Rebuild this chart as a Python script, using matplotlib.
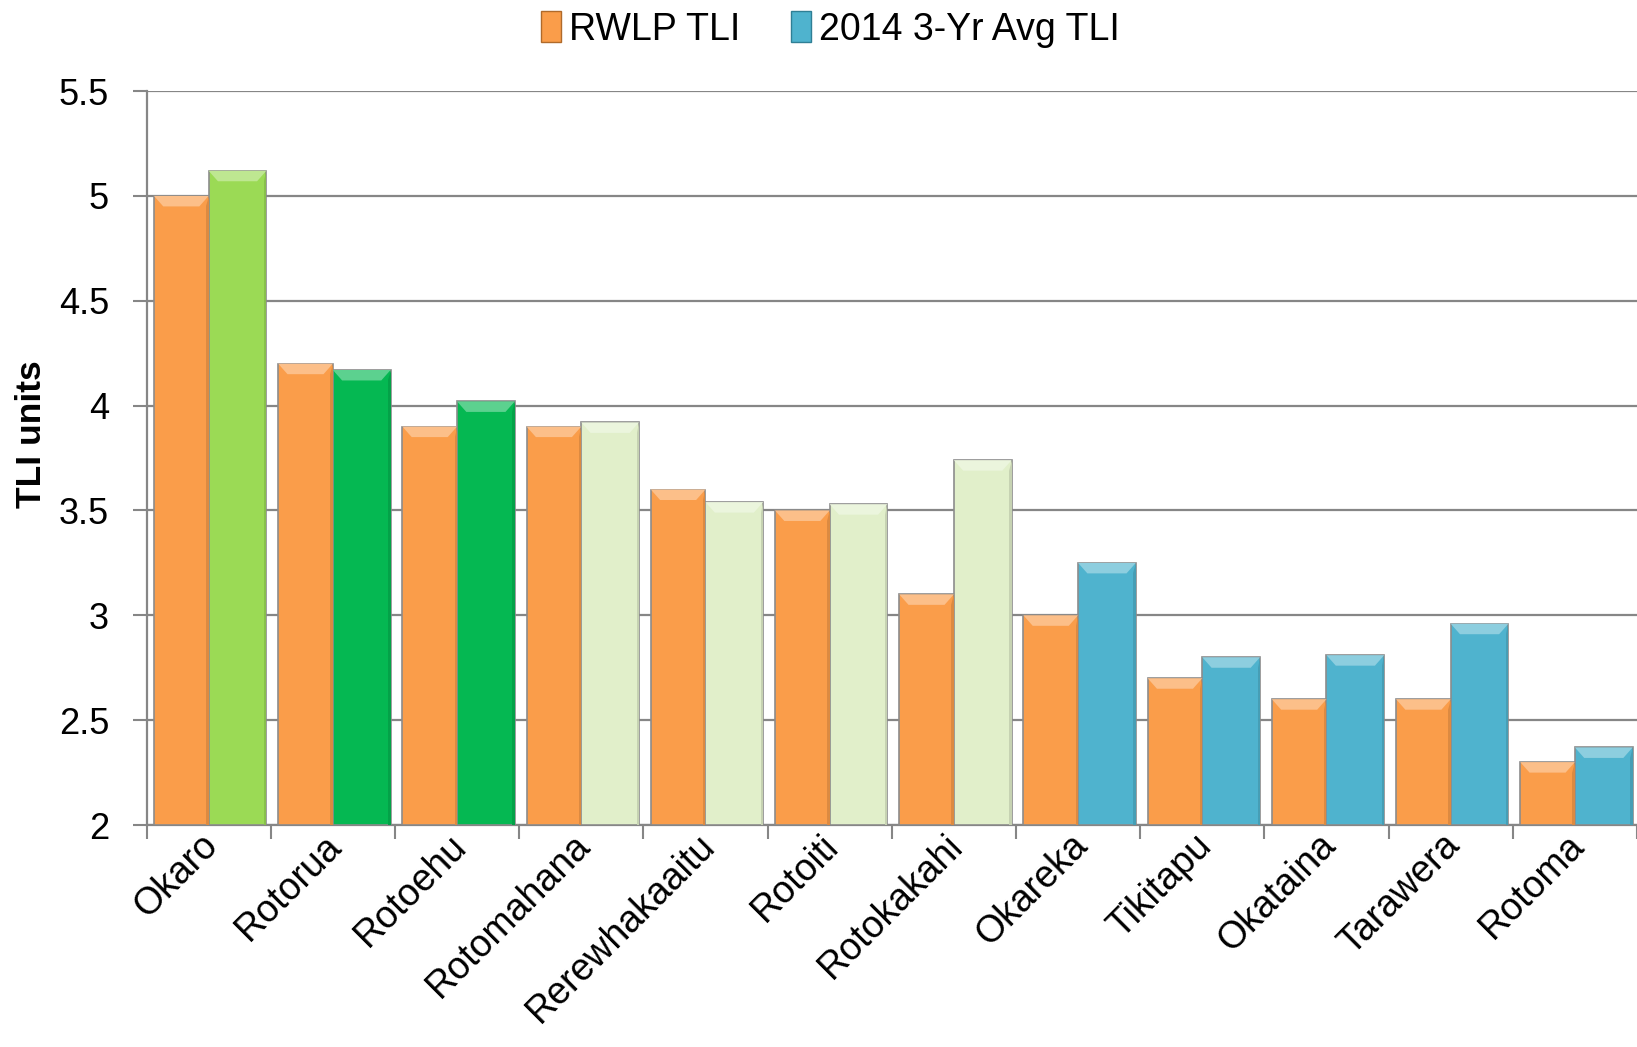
import matplotlib
matplotlib.use("Agg")
import matplotlib.pyplot as plt
import matplotlib.colors as mcolors
from matplotlib.patches import Patch, Polygon
from matplotlib.ticker import FixedLocator, FormatStrFormatter
import numpy as np

plt.rcParams['font.family'] = ['Liberation Sans', 'DejaVu Sans']

lakes = ["Okaro", "Rotorua", "Rotoehu", "Rotomahana", "Rerewhakaaitu", "Rotoiti",
         "Rotokakahi", "Okareka", "Tikitapu", "Okataina", "Tarawera", "Rotoma"]
rwlp_tli = [5.0, 4.2, 3.9, 3.9, 3.6, 3.5, 3.1, 3.0, 2.7, 2.6, 2.6, 2.3]
avg_tli_2014 = [5.12, 4.17, 4.02, 3.92, 3.54, 3.53, 3.74, 3.25, 2.80, 2.81, 2.96, 2.37]
avg_colors = ["#9BDA55", "#05B852", "#05B852", "#E1EFCA", "#E1EFCA", "#E1EFCA",
              "#E1EFCA", "#4FB3CE", "#4FB3CE", "#4FB3CE", "#4FB3CE", "#4FB3CE"]
orange = "#FA9D4A"
series_names = ["RWLP TLI", "2014 3-Yr Avg TLI"]
yticks = [2, 2.5, 3, 3.5, 4, 4.5, 5, 5.5]

fig = plt.figure(figsize=(16.37, 10.47), dpi=100)
ax = fig.add_axes([0.0895, 0.212, 0.9105, 0.701])

x = np.arange(len(lakes))
w1, w2 = 0.44, 0.465
base = 2.0
b1 = ax.bar(x - w1, np.array(rwlp_tli) - base, width=w1, bottom=base, align='edge',
            color=orange, edgecolor='#8c8c8c', linewidth=1.2, zorder=3)
b2 = ax.bar(x, np.array(avg_tli_2014) - base, width=w2, bottom=base, align='edge',
            color=avg_colors, edgecolor='#8c8c8c', linewidth=1.2, zorder=3)


def lighten(c, f):
    r, g, b = mcolors.to_rgb(c)
    return (r + (1 - r) * f, g + (1 - g) * f, b + (1 - b) * f)


def darken(c, f):
    r, g, b = mcolors.to_rgb(c)
    return (r * (1 - f), g * (1 - f), b * (1 - f))


bh = 0.05
bx = 0.075
for bars in (b1, b2):
    for rect in bars:
        x0 = rect.get_x()
        x1 = x0 + rect.get_width()
        top = rect.get_y() + rect.get_height()
        c = rect.get_facecolor()
        ax.add_patch(Polygon([[x0, top], [x1, top], [x1 - bx, top - bh], [x0 + bx, top - bh]],
                             closed=True, facecolor=lighten(c, 0.35), edgecolor='none', zorder=4))
        ax.add_patch(Polygon([[x1, top], [x1, base], [x1 - 0.02, base], [x1 - 0.02, top - bh]],
                             closed=True, facecolor=darken(c, 0.12), edgecolor='none', zorder=4))

ax.set_xlim(-0.5, len(lakes) - 0.5)
ax.set_ylim(2, 5.5)

ax.set_yticks(yticks)
ax.yaxis.set_major_formatter(FormatStrFormatter('%g'))
ax.grid(axis='y', color='#868686', linewidth=1.6, zorder=0)
ax.set_axisbelow(True)

ax.xaxis.set_major_locator(FixedLocator(np.arange(len(lakes) + 1) - 0.5))
ax.xaxis.set_major_formatter(plt.NullFormatter())
ax.xaxis.set_minor_locator(FixedLocator(x + 0.03))
ax.set_xticklabels(lakes, minor=True)
ax.tick_params(axis='x', which='major', length=10, width=1.5, color='#868686', direction='out')
ax.tick_params(axis='x', which='minor', length=0, pad=11)
for lbl in ax.get_xticklabels(minor=True):
    lbl.set_rotation(45)
    lbl.set_ha('right')
    lbl.set_va('center')
    lbl.set_rotation_mode('anchor')
    lbl.set_fontsize(27)

ax.tick_params(axis='y', length=10, width=1.5, color='#868686', labelsize=26, pad=17)

for s in ['top', 'right']:
    ax.spines[s].set_visible(False)
ax.spines['left'].set_color('#868686')
ax.spines['left'].set_linewidth(1.6)
ax.spines['bottom'].set_color('#868686')
ax.spines['bottom'].set_linewidth(1.6)

ax.set_ylabel("TLI units", fontsize=25.5, fontweight='bold')
ax.yaxis.set_label_coords(-0.066, 0.532)

handles = [Patch(facecolor=orange, edgecolor='#b06a2a'),
           Patch(facecolor="#4FB3CE", edgecolor='#2f7f95')]
fig.legend(handles, series_names, loc='center', bbox_to_anchor=(0.507, 0.972), ncol=2,
           frameon=False, fontsize=27, handlelength=0.55, handleheight=0.9,
           handletextpad=0.2, columnspacing=1.35)

fig.savefig("out.png", dpi=100)
